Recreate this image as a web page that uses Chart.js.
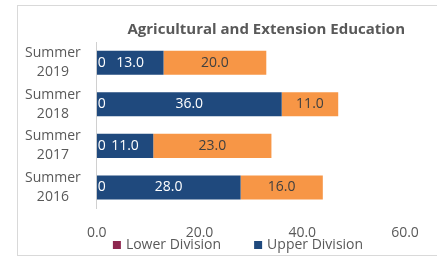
<!DOCTYPE html>
<html>
<head>
<meta charset="utf-8">
<script src="https://cdn.jsdelivr.net/npm/chart.js@4/dist/chart.umd.min.js"></script>
<style>
  body { margin: 0; background: #fff; overflow: hidden; }
  #wrap { position: relative; width: 437px; height: 257px; }
  #frame { position: absolute; left: 17px; top: 5px; width: 440px; height: 249px;
           border: 1px solid #d9d9d9; pointer-events: none; }
</style>
</head>
<body>
<div id="wrap">
  <canvas id="chart" width="437" height="257"></canvas>
  <div id="frame"></div>
</div>
<script>
const categories = [["Summer", "2016"], ["Summer", "2017"], ["Summer", "2018"], ["Summer", "2019"]];
const lowerDivision = [0, 0, 0, 0];
const upperDivision = [28, 11, 36, 13];
const otherValues = [16, 23, 11, 20];
const xTicks = [0, 20, 40, 60];

const FONT = "'Open Sans', 'DejaVu Sans', sans-serif";
const GREY = "#595959";

// labels inside the bars
const barLabels = {
  id: "barLabels",
  afterDatasetsDraw(chart) {
    const ctx = chart.ctx;
    ctx.save();
    ctx.font = "14px " + FONT;
    ctx.textBaseline = "middle";
    chart.data.datasets.forEach((ds, i) => {
      const meta = chart.getDatasetMeta(i);
      meta.data.forEach((bar, j) => {
        const v = ds.data[j];
        if (i === 0) {
          ctx.fillStyle = "#ffffff";
          ctx.textAlign = "left";
          ctx.fillText(String(v), bar.base + 1, bar.y);
        } else {
          ctx.fillStyle = i === 1 ? "#ffffff" : "#404040";
          ctx.textAlign = "center";
          ctx.fillText(v.toFixed(1), (bar.x + bar.base) / 2, bar.y);
        }
      });
    });
    ctx.restore();
  }
};

// legend for the two named series, spaced like the original
const bottomLegend = {
  id: "bottomLegend",
  afterDraw(chart) {
    const ctx = chart.ctx;
    const items = chart.data.datasets.filter(d => d.inLegend);
    ctx.save();
    ctx.font = "14px " + FONT;
    ctx.textBaseline = "middle";
    ctx.textAlign = "left";
    const box = 8, gapText = 5, gapItem = 33;
    const widths = items.map(d => box + gapText + ctx.measureText(d.label).width);
    const total = widths.reduce((a, b) => a + b, 0) + gapItem * (items.length - 1);
    let x = 238 - total / 2;
    const y = 245;
    items.forEach((d, k) => {
      ctx.fillStyle = d.backgroundColor;
      ctx.fillRect(x, y - box / 2, box, box);
      ctx.fillStyle = GREY;
      ctx.fillText(d.label, x + box + gapText, y);
      x += widths[k] + gapItem;
    });
    ctx.restore();
  }
};

new Chart(document.getElementById("chart"), {
  type: "bar",
  data: {
    labels: categories,
    datasets: [
      { label: "Lower Division", data: lowerDivision, backgroundColor: "#8e2750", inLegend: true },
      { label: "Upper Division", data: upperDivision, backgroundColor: "#1f497d", inLegend: true },
      { label: "Other", data: otherValues, backgroundColor: "#f79646", inLegend: false }
    ]
  },
  options: {
    indexAxis: "y",
    responsive: false,
    animation: false,
    layout: { padding: { left: 9, right: 32, top: 0, bottom: 0 } },
    datasets: { bar: { categoryPercentage: 1, barPercentage: 0.58 } },
    scales: {
      x: {
        stacked: true,
        min: 0,
        max: 60,
        afterBuildTicks: axis => { axis.ticks = xTicks.map(v => ({ value: v })); },
        ticks: { color: GREY, font: { family: FONT, size: 14 }, padding: 16,
                 maxRotation: 0, minRotation: 0, autoSkip: false,
                 callback: v => Number(v).toFixed(1) },
        grid: { display: false, drawTicks: false },
        border: { display: false }
      },
      y: {
        stacked: true,
        reverse: true,
        ticks: { color: GREY, font: { family: FONT, size: 14, lineHeight: 1.35 },
                 crossAlign: "center", padding: 16, autoSkip: false },
        grid: { display: false, drawTicks: false },
        border: { display: true, color: "#d0d0d0" }
      }
    },
    plugins: {
      legend: { display: false },
      tooltip: { enabled: false },
      title: {
        display: true,
        text: "Agricultural and Extension Education",
        align: "end",
        color: GREY,
        font: { family: FONT, size: 15, weight: "bold", lineHeight: 1.2 },
        padding: { top: 21, bottom: 3 }
      }
    }
  },
  plugins: [barLabels, bottomLegend]
});
</script>
</body>
</html>
